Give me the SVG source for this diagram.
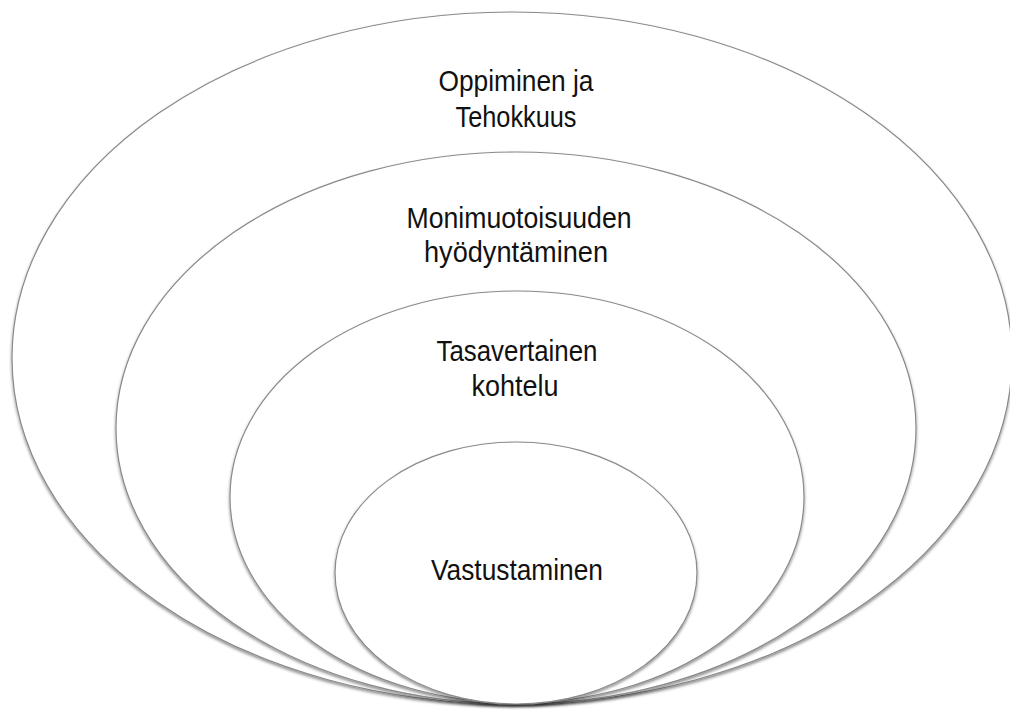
<svg xmlns="http://www.w3.org/2000/svg" width="1010" height="711" viewBox="0 0 1010 711">
<defs>
<filter id="sh" x="-5%" y="-5%" width="110%" height="115%">
<feDropShadow dx="0" dy="2" stdDeviation="1.6" flood-color="#000" flood-opacity="0.45"/>
</filter>
</defs>
<style>
.e{fill:#fff;stroke:#8a8a8a;stroke-width:1.2;filter:url(#sh)}
.t{font-family:"Liberation Sans",Arial,sans-serif;font-size:29px;fill:#111;text-anchor:middle}
</style>
<rect width="1010" height="711" fill="#fff"/>
<g id="n1"><ellipse class="e" cx="512" cy="358" rx="500" ry="346"/>
<text class="t" x="516" y="91" textLength="155" lengthAdjust="spacingAndGlyphs">Oppiminen ja</text>
<text class="t" x="516" y="127" textLength="121" lengthAdjust="spacingAndGlyphs">Tehokkuus</text></g>
<g id="n2"><ellipse class="e" cx="516" cy="428" rx="400" ry="276"/>
<text class="t" x="519" y="228" textLength="225" lengthAdjust="spacingAndGlyphs">Monimuotoisuuden</text>
<text class="t" x="516" y="262" textLength="184" lengthAdjust="spacingAndGlyphs">hyödyntäminen</text></g>
<g id="n3"><ellipse class="e" cx="517" cy="497" rx="287" ry="206"/>
<text class="t" x="517" y="361" textLength="161" lengthAdjust="spacingAndGlyphs">Tasavertainen</text>
<text class="t" x="515" y="396" textLength="87" lengthAdjust="spacingAndGlyphs">kohtelu</text></g>
<g id="n4"><ellipse class="e" cx="516" cy="573" rx="181" ry="131"/>
<text class="t" x="517" y="580" textLength="172" lengthAdjust="spacingAndGlyphs">Vastustaminen</text></g>
<g id="connectors"/>
</svg>
